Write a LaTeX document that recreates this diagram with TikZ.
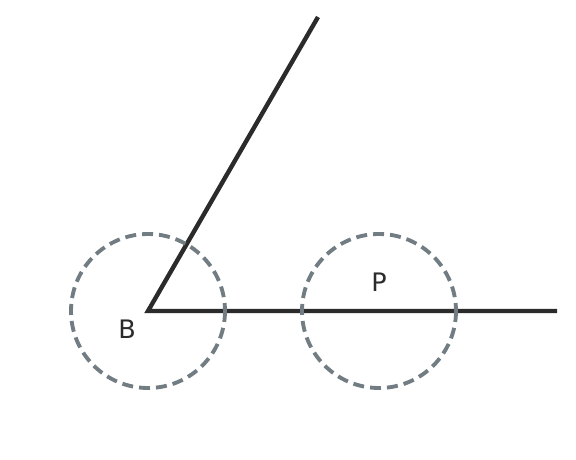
\documentclass[tikz,border=0pt]{standalone}
\usepackage{fontspec}
\setmainfont{DejaVu Sans}
\usetikzlibrary{positioning}
\definecolor{linecol}{HTML}{2B2B2B}
\definecolor{circcol}{HTML}{717C83}
\tikzset{
    ray/.style={draw=linecol, line width=2.5pt},
    ring/.style={draw=circcol, line width=2.2pt, dash pattern=on 0.22cm off 0.12cm},
    lbl/.style={font=\fontsize{14.5}{17}\selectfont, text=linecol}
}

\begin{document}
\begin{tikzpicture}[x=0.02cm, y=-0.02cm]
    \useasboundingbox (0, 0) rectangle (576, 460);
    \coordinate (B) at (148, 311);
    \coordinate (P) at (379, 311);
    \coordinate (rayend) at (557, 311);
    \coordinate (topend) at (318, 17);
    \draw[ray] (topend) -- (B) -- (rayend);
    \draw[ring] (B) circle (77);
    \draw[ring] (P) circle (77);
    \node[lbl] (labB) at (127, 329) {B};
    \node[lbl] (labP) at (379, 282) {P};
\end{tikzpicture}
\end{document}
